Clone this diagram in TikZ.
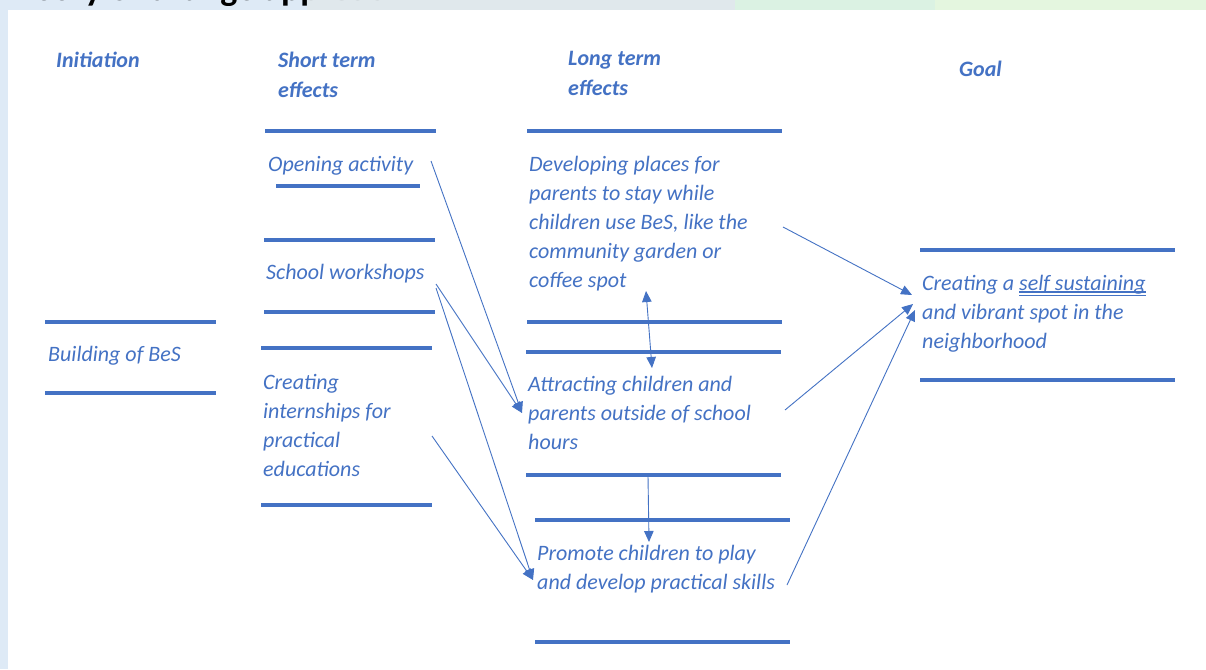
\documentclass[tikz,border=0pt]{standalone}
\usepackage{fontspec}
\setmainfont{Carlito}
\usetikzlibrary{arrows.meta}
\definecolor{tocblue}{HTML}{4472C4}
\definecolor{bandblue}{HTML}{DEEAF6}
\definecolor{bandgray}{HTML}{E0E8EC}
\definecolor{bandmint}{HTML}{DBF2E3}
\definecolor{bandgreen}{HTML}{E4F6DF}
\newcommand\dblunder[1]{\setbox0\hbox{#1}\dp0=0pt\vtop{\box0\kern1pt\hrule height1.3pt\kern2.4pt\hrule height0.7pt}}
\begin{document}
\begin{tikzpicture}[x=1pt,y=-1pt,
  bar/.style={draw=tocblue,line width=4pt},
  txt/.style={anchor=north west,inner sep=0pt,align=left,text=tocblue,font=\fontsize{22}{29}\selectfont\itshape},
  head/.style={anchor=north west,inner sep=0pt,align=left,text=tocblue,font=\fontsize{22}{30}\selectfont\bfseries\itshape},
  link/.style={draw=tocblue,line width=0.9pt,-{Triangle[length=11pt,width=9.5pt]}},
  dlink/.style={draw=tocblue,line width=0.9pt,{Triangle[length=11pt,width=9.5pt]}-{Triangle[length=11pt,width=9.5pt]}},
]
\useasboundingbox (0,0) rectangle (1206,669);
\fill[white] (0,0) rectangle (1206,669);
% top bands and left strip
\fill[bandblue] (0,0) rectangle (307,10.5);
\fill[bandgray] (307,0) rectangle (735,10.5);
\fill[bandmint] (735,0) rectangle (935,10.5);
\fill[bandgreen] (935,0) rectangle (1206,10.5);
\fill[bandblue] (0,0) rectangle (8,669);
% cut-off title
\begin{scope}
\clip (0,0) rectangle (1206,5.5);
\node[anchor=base west,inner sep=0pt,font=\fontsize{36}{40}\selectfont\bfseries] (title) at (-3,0.5) {Theory of change approach};
\end{scope}
\fill[bandgray,opacity=0.8] (307,0) rectangle (735,10.5);

% headings
\node[head] (hinit) at (56,46.5) {\strut Initiation};
\node[head] (hshort) at (278,46.5) {\strut Short term\\effects};
\node[head] (hlong) at (568,44.5) {\strut Long term\\effects};
\node[head] (hgoal) at (959,55.5) {\strut Goal};

% texts
\node[txt] (build) at (48,340.7) {\strut Building of BeS};
\node[txt] (open) at (268,150.7) {\strut Opening activity};
\node[txt] (work) at (266,258.7) {\strut School workshops};
\node[txt] (intern) at (263,368.7) {\strut Creating\\internships for\\practical\\educations};
\node[txt] (devel) at (529,150.7) {\strut Developing places for\\parents to stay while\\children use BeS, like the\\community garden or\\coffee spot};
\node[txt] (attract) at (528,370.7) {\strut Attracting children and\\parents outside of school\\hours};
\node[txt] (promote) at (537,539.7) {\strut Promote children to play\\and develop practical skills};
\node[txt] (goal) at (922,269.7) {\strut Creating a \dblunder{self sustaining}\\and vibrant spot in the\\neighborhood};

% bars
\draw[bar] (45,322) -- (216,322);
\draw[bar] (45,393) -- (216,393);
\draw[bar] (265,131) -- (436,131);
\draw[bar] (276,186) -- (420,186);
\draw[bar] (264,240) -- (435,240);
\draw[bar] (264,312) -- (435,312);
\draw[bar] (261,348) -- (432,348);
\draw[bar] (261,505) -- (432,505);
\draw[bar] (527,131) -- (782,131);
\draw[bar] (527,322) -- (782,322);
\draw[bar] (526,352) -- (781,352);
\draw[bar] (526,475) -- (781,475);
\draw[bar] (535,520) -- (790,520);
\draw[bar] (535,642) -- (790,642);
\draw[bar] (920,250) -- (1175,250);
\draw[bar] (920,380) -- (1175,380);

% connector ends
\coordinate (openOut) at (431,161);
\coordinate (workOutA) at (436,284);
\coordinate (workOutB) at (436,288);
\coordinate (internOut) at (432,436);
\coordinate (attractIn) at (522,413);
\coordinate (promoteIn) at (533,580);
\coordinate (develDown) at (646,291);
\coordinate (attractUp) at (652,368);
\coordinate (attractDown) at (648,476);
\coordinate (promoteUp) at (649,542);
\coordinate (develOut) at (783,227);
\coordinate (attractOut) at (785,410);
\coordinate (promoteOut) at (787,585);
\coordinate (goalInA) at (912,295);
\coordinate (goalInB) at (913,304);
\coordinate (goalInC) at (915,310);

% connectors
\draw[link] (openOut) -- (attractIn);
\draw[link] (workOutA) -- (attractIn);
\draw[link] (workOutB) -- (promoteIn);
\draw[link] (internOut) -- (promoteIn);
\draw[dlink] (develDown) -- (attractUp);
\draw[link] (attractDown) -- (promoteUp);
\draw[link] (develOut) -- (goalInA);
\draw[link] (attractOut) -- (goalInB);
\draw[link] (promoteOut) -- (goalInC);
\end{tikzpicture}
\end{document}
